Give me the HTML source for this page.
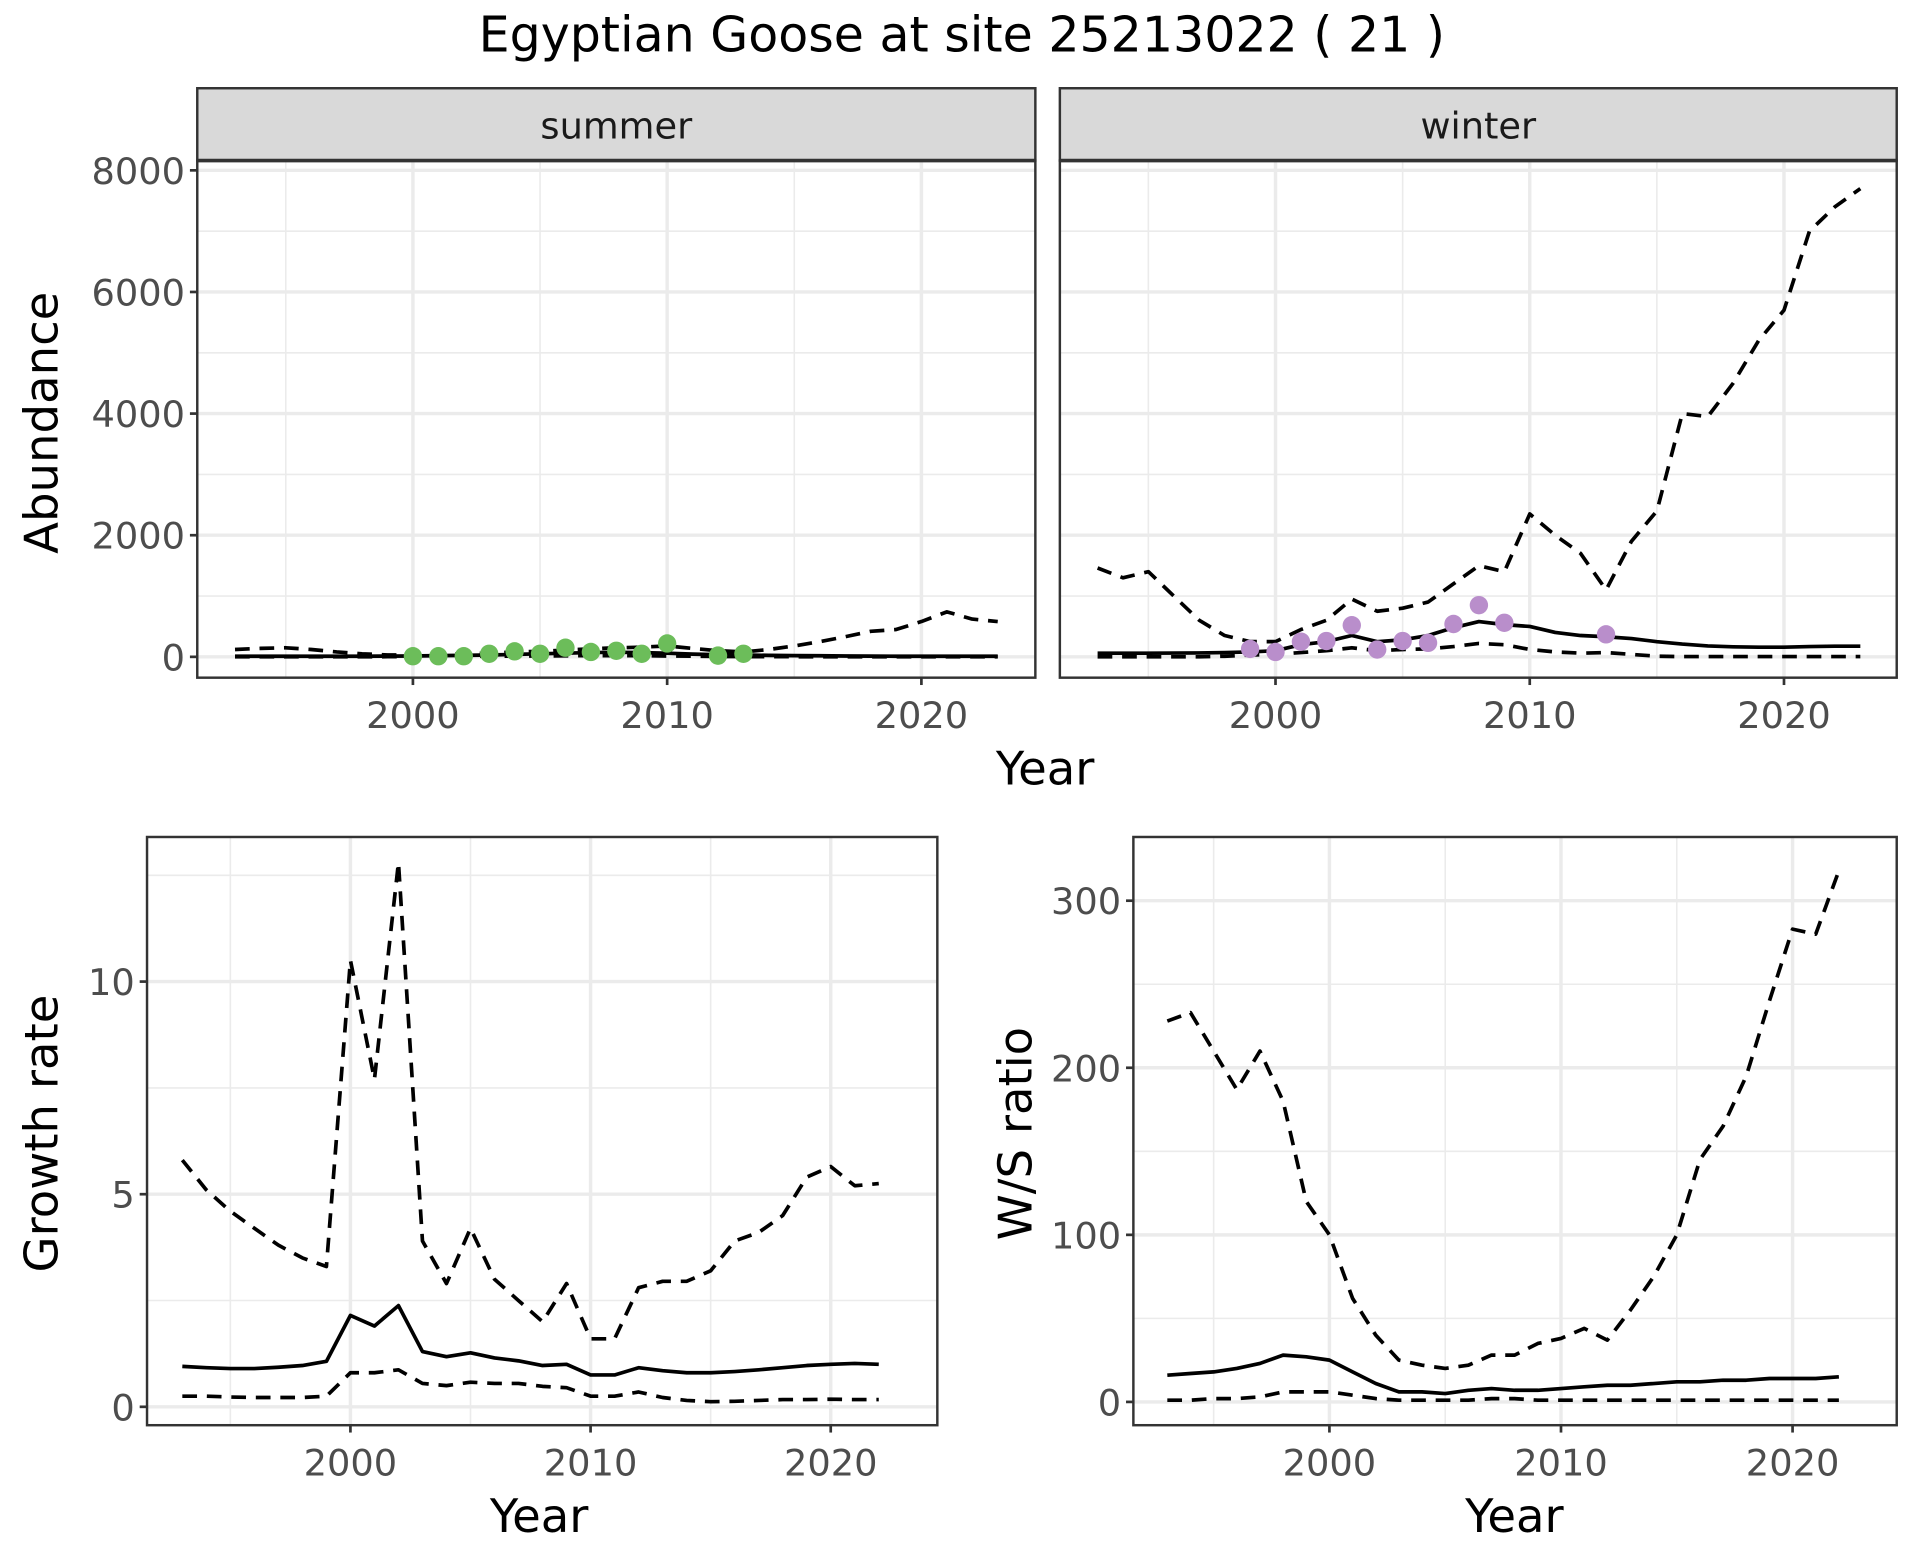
<!DOCTYPE html>
<html><head><meta charset="utf-8"><style>
html,body{margin:0;padding:0;background:#fff;}
svg{display:block;font-family:"DejaVu Sans","Liberation Sans",sans-serif;}
</style></head><body>
<svg id="chart" width="1920" height="1560" viewBox="0 0 1567 1273" preserveAspectRatio="none" xmlns="http://www.w3.org/2000/svg">
<rect width="1567" height="1273" fill="#fff"/>
<text x="785" y="42" font-size="40" text-anchor="middle" fill="#000">Egyptian Goose at site 25213022 ( 21 )</text>
<g id="g"></g>
</svg>
<script>
const years = [1993,1994,1995,1996,1997,1998,1999,2000,2001,2002,2003,2004,2005,2006,2007,2008,2009,2010,2011,2012,2013,2014,2015,2016,2017,2018,2019,2020,2021,2022,2023];
const summerUpper = [120,140,150,120,80,50,30,30,40,50,60,80,90,110,130,150,160,180,140,100,80,120,180,250,330,420,450,580,740,620,580];
const summerMid = [10,10,10,10,10,10,12,15,20,25,30,40,50,60,70,75,70,60,45,35,30,25,20,18,15,12,10,10,10,10,10];
const summerLower = [0,0,0,0,0,0,2,3,5,8,10,12,15,18,20,20,18,15,10,6,4,3,2,1,1,1,1,1,1,1,1];
const summerObsYears = [2000,2001,2002,2003,2004,2005,2006,2007,2008,2009,2010,2012,2013];
const summerObs = [10,10,10,50,90,50,150,80,100,50,220,20,50];
const winterUpper = [1460,1300,1400,1000,600,350,250,250,450,600,950,750,800,900,1200,1500,1400,2350,2000,1700,1100,1900,2400,4000,3950,4500,5200,5700,7000,7400,7700];
const winterMid = [60,60,60,62,65,70,80,100,200,250,350,250,280,350,480,580,530,500,400,350,330,300,250,210,180,165,160,160,170,175,175];
const winterLower = [0,0,0,0,0,10,30,40,70,100,150,100,120,130,170,220,200,120,80,60,70,40,10,5,5,5,5,5,5,5,5];
const winterObsYears = [1999,2000,2001,2002,2003,2004,2005,2006,2007,2008,2009,2013];
const winterObs = [130,80,250,260,520,120,260,230,540,850,560,370];
const yearsB = years.slice(0,30);
const growthUpper = [5.8,5.1,4.6,4.2,3.8,3.5,3.3,10.5,7.7,12.8,3.9,2.9,4.2,3.0,2.5,2.0,2.9,1.6,1.6,2.8,2.95,2.95,3.2,3.9,4.1,4.5,5.4,5.65,5.2,5.25];
const growthMid = [0.95,0.92,0.9,0.9,0.93,0.97,1.07,2.15,1.9,2.38,1.3,1.18,1.27,1.15,1.08,0.97,1.0,0.75,0.75,0.92,0.85,0.8,0.8,0.83,0.87,0.92,0.97,1.0,1.02,1.0];
const growthLower = [0.25,0.25,0.23,0.22,0.22,0.22,0.25,0.8,0.8,0.87,0.55,0.5,0.58,0.55,0.55,0.48,0.45,0.25,0.25,0.35,0.22,0.15,0.12,0.13,0.15,0.17,0.17,0.18,0.17,0.17];
const wsUpper = [228,233,210,187,210,180,120,100,62,40,25,22,20,22,28,28,35,38,44,37,55,75,100,145,165,195,240,283,280,318];
const wsMid = [16,17,18,20,23,28,27,25,18,11,6,6,5,7,8,7,7,8,9,10,10,11,12,12,13,13,14,14,14,15];
const wsLower = [1,1,2,2,3,6,6,6,4,2,1,1,1,1,2,2,1,1,1,1,1,1,1,1,1,1,1,1,1,1];
const abTicks = [0,2000,4000,6000,8000];
const abMinor = [1000,3000,5000,7000];
const grTicks = [0,5,10];
const grMinor = [2.5,7.5,12.5];
const wsTicks = [0,100,200,300];
const wsMinor = [50,150,250];
const xTicks = [2000,2010,2020];
const xMinor = [1995,2005,2015];

const NS='http://www.w3.org/2000/svg';
const G=document.getElementById('g');
function mk(tag,attrs,parent){const e=document.createElementNS(NS,tag);for(const k in attrs)e.setAttribute(k,attrs[k]);(parent||G).appendChild(e);return e;}
function lin(d0,d1,r0,r1){return v=>r0+(v-d0)*(r1-r0)/(d1-d0);}
const TF=30;

function panel(o){
  const {x0,x1,y0,y1,sx,sy,name}=o;
  const g=mk('g',{});
  
  
  o.minorY.forEach(v=>{const y=sy(v);if(y>y0&&y<y1){const l=mk('line',{x1:x0,x2:x1,y1:y,y2:y,stroke:'#ebebeb','stroke-width':1.3},g);}});
  xMinor.forEach(v=>{const x=sx(v);const l=mk('line',{x1:x,x2:x,y1:y0,y2:y1,stroke:'#ebebeb','stroke-width':1.3},g);});
  o.ticksY.forEach(v=>{const y=sy(v);const l=mk('line',{x1:x0,x2:x1,y1:y,y2:y,stroke:'#ebebeb','stroke-width':2.8},g);
    if(o.yLabels){mk('line',{x1:x0-6,x2:x0,y1:y,y2:y,stroke:'#333','stroke-width':2.2},g);const t=mk('text',{x:x0-10,y:y+11,'font-size':TF,'text-anchor':'end',fill:'#4d4d4d'},g);t.textContent=String(v);}});
  xTicks.forEach(v=>{const x=sx(v);const l=mk('line',{x1:x,x2:x,y1:y0,y2:y1,stroke:'#ebebeb','stroke-width':2.8},g);
    mk('line',{x1:x,x2:x,y1:y1,y2:y1+6,stroke:'#333','stroke-width':2.2},g);const t=mk('text',{x:x,y:y1+41,'font-size':TF,'text-anchor':'middle',fill:'#4d4d4d'},g);t.textContent=String(v);});
  const clip='clip-'+name;
  const cp=mk('clipPath',{id:clip},g);mk('rect',{x:x0,y:y0,width:x1-x0,height:y1-y0},cp);
  const dg=mk('g',{'clip-path':'url(#'+clip+')'},g);
  o.series.forEach(s=>{
    const d=s.xs.map((yr,i)=>(i?'L':'M')+sx(yr).toFixed(1)+','+sy(s.ys[i]).toFixed(1)).join('');
    const p=mk('path',{d:d,fill:'none',stroke:'#000','stroke-width':3,'stroke-dasharray':s.dash?'12,8':'none','stroke-linejoin':'round'},dg);
    
    
  });
  if(o.pts){o.pts.xs.forEach((yr,i)=>{const c=mk('circle',{cx:sx(yr),cy:sy(o.pts.ys[i]),r:7.5,fill:o.pts.color},dg);
    
    });}
  mk('rect',{x:x0,y:y0,width:x1-x0,height:y1-y0,fill:'none',stroke:'#333','stroke-width':2},g);
  if(o.strip){const r=mk('rect',{x:x0,y:y0-59,width:x1-x0,height:59,fill:'#d9d9d9',stroke:'#333','stroke-width':2},g);
    mk('line',{x1:x0,x2:x1,y1:y0,y2:y0,stroke:'#333','stroke-width':3},g);
    const t=mk('text',{x:(x0+x1)/2,y:y0-18,'font-size':30,'text-anchor':'middle',fill:'#1a1a1a'},g);t.textContent=o.strip;}
}
const syA=lin(0,8000,536,139);
panel({name:'summer',x0:161,x1:845,y0:131,y1:553,sx:lin(2000,2020,337,752),sy:syA,ticksY:abTicks,minorY:abMinor,yLabels:true,strip:'summer',
  series:[{name:'summer-upper-line',xs:years,ys:summerUpper,dash:true},{name:'summer-mean-line',xs:years,ys:summerMid},{name:'summer-lower-line',xs:years,ys:summerLower,dash:true}],
  pts:{xs:summerObsYears,ys:summerObs,color:'#6cbd5a'}});
panel({name:'winter',x0:865,x1:1548,y0:131,y1:553,sx:lin(2000,2020,1041,1456),sy:syA,ticksY:abTicks,minorY:abMinor,yLabels:false,strip:'winter',
  series:[{name:'winter-upper-line',xs:years,ys:winterUpper,dash:true},{name:'winter-mean-line',xs:years,ys:winterMid},{name:'winter-lower-line',xs:years,ys:winterLower,dash:true}],
  pts:{xs:winterObsYears,ys:winterObs,color:'#b98ecb'}});
panel({name:'growth',x0:120,x1:765,y0:683,y1:1163,sx:lin(2000,2020,286,678),sy:lin(0,10,1148,801),ticksY:grTicks,minorY:grMinor,yLabels:true,
  series:[{name:'growth-upper-line',xs:yearsB,ys:growthUpper,dash:true},{name:'growth-mean-line',xs:yearsB,ys:growthMid},{name:'growth-lower-line',xs:yearsB,ys:growthLower,dash:true}]});
panel({name:'ws-ratio',x0:925,x1:1548,y0:683,y1:1163,sx:lin(2000,2020,1085,1463),sy:lin(0,300,1144,735),ticksY:wsTicks,minorY:wsMinor,yLabels:true,
  series:[{name:'ws-upper-line',xs:yearsB,ys:wsUpper,dash:true},{name:'ws-mean-line',xs:yearsB,ys:wsMid},{name:'ws-lower-line',xs:yearsB,ys:wsLower,dash:true}]});
function label(txt,x,y,rot,name){const t=mk('text',{x:x,y:y,'font-size':38,'text-anchor':'middle',fill:'#000',transform:rot?`rotate(-90 ${x} ${y})`:''});t.textContent=txt;
  
  }
label('Abundance',47,345,true,'y-axis-title-abundance');
label('Year',853,640,false,'x-axis-title-top');
label('Growth rate',47,925,true,'y-axis-title-growth');
label('Year',440,1250,false,'x-axis-title-growth');
label('W/S ratio',842,925,true,'y-axis-title-ws');
label('Year',1236,1250,false,'x-axis-title-ws');
</script>
</body></html>
